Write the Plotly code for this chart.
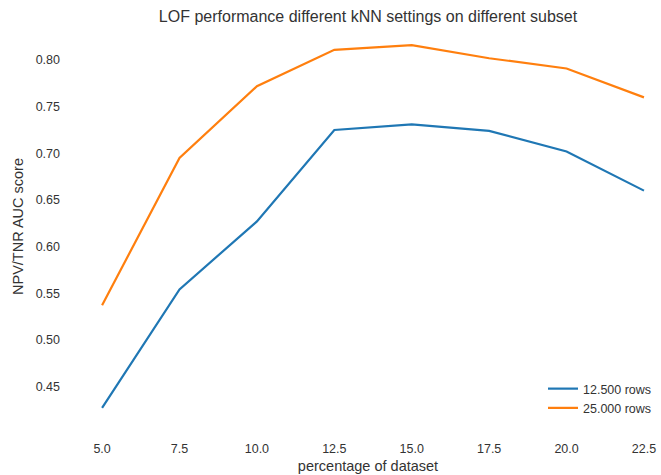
import plotly.graph_objects as go

# Share of the dataset used (percent)
pct_dataset = [5.0, 7.5, 10.0, 12.5, 15.0, 17.5, 20.0, 22.5]

# NPV/TNR AUC score per subset size
auc_12500 = [0.427, 0.554, 0.627, 0.725, 0.731, 0.724, 0.702, 0.660]
auc_25000 = [0.537, 0.695, 0.772, 0.811, 0.816, 0.802, 0.791, 0.760]

series_names = ["12.500 rows", "25.000 rows"]
series_colors = ["#1f77b4", "#ff7f0e"]

y_ticks = [0.45, 0.50, 0.55, 0.60, 0.65, 0.70, 0.75, 0.80]
x_ticks = [5.0, 7.5, 10.0, 12.5, 15.0, 17.5, 20.0, 22.5]

FONT = "Liberation Sans, Arial, sans-serif"
TEXT = "#333333"

fig = go.Figure()
for name, vals, color in zip(series_names, [auc_12500, auc_25000], series_colors):
    fig.add_trace(go.Scatter(
        x=pct_dataset, y=vals, mode="lines", name=name,
        line=dict(color=color, width=2.2),
    ))

fig.update_layout(
    width=661, height=475,
    margin=dict(l=75, r=0, t=27, b=49),
    paper_bgcolor="white", plot_bgcolor="white",
    font=dict(family=FONT, color=TEXT, size=12.5),
    title=dict(
        text="LOF performance different kNN settings on different subset",
        font=dict(size=16, color=TEXT),
        x=0.5, xref="paper", xanchor="center",
        y=1 - 16 / 475, yref="container", yanchor="middle",
    ),
    showlegend=True,
    legend=dict(
        x=(543 - 75) / 586, xanchor="left",
        y=(426 - 374) / 399, yanchor="top",
        bgcolor="rgba(0,0,0,0)", borderwidth=0,
        font=dict(size=12.5, color=TEXT),
        tracegroupgap=0,
    ),
)

fig.update_xaxes(
    range=[4.125, 23.05],
    tickmode="array", tickvals=x_ticks,
    ticktext=[f"{v:.1f}" for v in x_ticks],
    showgrid=False, zeroline=False, showline=False, ticks="",
    ticklabelstandoff=13,
    tickfont=dict(size=12.5, color=TEXT),
    title=dict(text="percentage of dataset", font=dict(size=14.5, color=TEXT), standoff=6),
)
fig.update_yaxes(
    range=[0.4075, 0.8355],
    tickmode="array", tickvals=y_ticks,
    ticktext=[f"{v:.2f}" for v in y_ticks],
    showgrid=False, zeroline=False, showline=False, ticks="",
    ticklabelstandoff=14,
    tickfont=dict(size=12.5, color=TEXT),
    title=dict(text="NPV/TNR AUC score", font=dict(size=14.5, color=TEXT), standoff=8),
)

fig.write_html("out.html")
